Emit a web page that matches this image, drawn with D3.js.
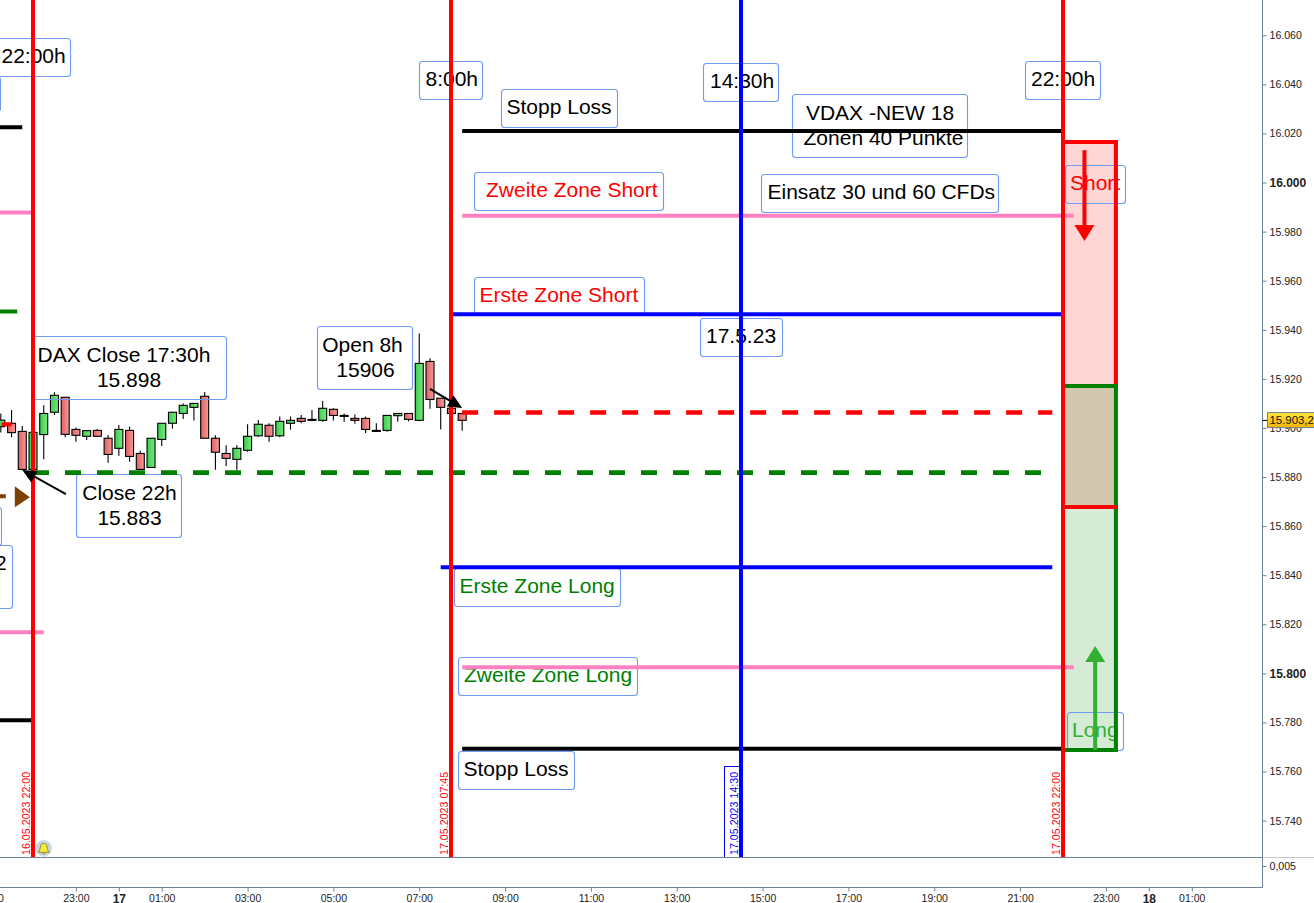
<!DOCTYPE html>
<html>
<head>
<meta charset="utf-8">
<style>
html,body{margin:0;padding:0;background:#fff;overflow:hidden}
svg{display:block}
text{font-family:"Liberation Sans",Arial,sans-serif}
</style>
<script src="https://cdn.jsdelivr.net/npm/d3@7"></script>
</head>
<body>
<svg id="c" width="1314" height="903"></svg>
<script>
// ---------- data ----------
const candleStart = Date.UTC(2023,4,16,21,15);
const candleOpen  = [15900.5,15901.9,15898.6,15883.1,15897.3,15906.4,15912.5,15899.4,15896.6,15899.0,15895.8,15891.7,15899.0,15889.6,15883.9,15895.3,15901.9,15905.9,15908.4,15912.9,15895.8,15889.6,15887.2,15890.9,15896.8,15901.1,15896.8,15901.9,15903.9,15903.1,15903.1,15907.6,15905.1,15903.9,15903.9,15899.0,15899.0,15905.0,15905.9,15903.1,15927.1,15912.1,15908.0,15905.9];
const candleHigh  = [15905.9,15907.3,15900.8,15898.2,15909.3,15914.5,15912.5,15900.2,15898.9,15899.6,15897.1,15901.2,15900.6,15890.7,15895.8,15901.9,15906.4,15910.0,15910.0,15914.6,15897.0,15892.9,15892.9,15901.5,15903.2,15901.9,15904.7,15904.7,15905.3,15907.3,15911.0,15908.0,15905.9,15905.5,15904.7,15901.9,15905.1,15905.9,15905.9,15938.5,15928.4,15912.1,15910.0,15905.9];
const candleLow   = [15898.1,15896.2,15883.1,15883.1,15887.2,15905.3,15896.2,15894.4,15895.1,15896.6,15885.8,15888.7,15886.2,15883.1,15883.9,15892.6,15899.7,15903.6,15903.0,15895.8,15883.0,15884.5,15883.0,15890.3,15896.4,15894.4,15896.2,15899.3,15901.9,15902.7,15902.5,15903.0,15902.5,15901.7,15897.9,15898.6,15898.5,15902.5,15902.7,15902.7,15907.8,15899.4,15905.9,15898.9];
const candleClose = [15903.2,15898.1,15883.1,15898.2,15905.9,15913.3,15897.4,15897.0,15898.9,15896.6,15889.2,15899.4,15888.4,15883.1,15895.8,15901.9,15906.4,15909.2,15910.0,15895.8,15890.1,15887.6,15891.7,15896.6,15901.5,15896.6,15902.7,15903.1,15902.7,15903.5,15908.0,15905.1,15904.7,15903.1,15899.4,15898.6,15905.1,15905.9,15903.5,15926.3,15911.6,15908.4,15905.9,15903.1];

const t = (d,h,m=0) => Date.UTC(2023,4,d,h,m);
const priceTicks = [16060,16040,16020,16000,15980,15960,15940,15920,15900,15880,15860,15840,15820,15800,15780,15760,15740];
const boldPrices = [16000,15800];
const timeTicks = [t(16,21),t(16,23),t(17,0),t(17,1),t(17,3),t(17,5),t(17,7),t(17,9),t(17,11),t(17,13),t(17,15),t(17,17),t(17,19),t(17,21),t(17,23),t(18,0),t(18,1)];

const stopLossUpper = 16021.0, stopLossLower = 15769.3;
const zweiteShort = 15986.5, zweiteLong = 15802.5;
const ersteShort = 15946.3, ersteLong = 15843.2;
const openLevel = 15906.3, closeLevel = 15881.8;
const prevBlackUp = 16022.5, prevBlackDown = 15780.9, prevPinkUp = 15987.8, prevPinkDown = 15816.7;
const prevGreen = 15947.5, prevRed = 15901.5, prevBrown = 15872.2;
const zoneTop = 16016.5, zoneShortBottom = 15917.1, zoneLongTop = 15867.8, zoneBottom = 15768.8;
const lastPrice = 15903.2;
const verticals = [t(16,22),t(17,7,45),t(17,14,30),t(17,22)];
const verticalLabels = ["16.05.2023 22:00","17.05.2023 07:45","17.05.2023 14:30","17.05.2023 22:00"];
const boxTexts = [
 ["22:00h"],["8:00h"],["Stopp Loss"],["14:30h"],["VDAX -NEW 18","Zonen 40 Punkte"],["22:00h"],
 ["Zweite Zone Short"],["Einsatz 30 und 60 CFDs"],["Short"],["Erste Zone Short"],["17.5.23"],
 ["DAX Close 17:30h","15.898"],["Open 8h","15906"],["Close 22h","15.883"],
 ["Erste Zone Long"],["Zweite Zone Long"],["Stopp Loss"],["Long"],["2"],[""],[""]
];

// ---------- scales ----------
const x = d3.scaleUtc().domain([t(16,22),t(17,22)]).range([33,1063]);
const y = d3.scaleLinear().domain([15740,16060]).range([820.6,35.3]);
const svg = d3.select("#c");
const defs = svg.append("defs");
function grad(id,a,b,vertical){
  const g = defs.append("linearGradient").attr("id",id).attr("x1",0).attr("y1",0).attr("x2",vertical?0:1).attr("y2",vertical?1:0);
  g.append("stop").attr("offset",0).attr("stop-color",a);
  g.append("stop").attr("offset",1).attr("stop-color",b);
}
grad("gUp","#38cf50","#7ce67c");
grad("gDn","#e06060","#f49a9a");
grad("gTag","#ffe83a","#f0b400",true);
defs.append("clipPath").attr("id","plot").append("rect").attr("width",1262).attr("height",857);

const plot = svg.append("g").attr("clip-path","url(#plot)");

// ---------- zones ----------
const zx0 = x(t(17,22)), zx1 = x(t(17,23,14));
const zones = [[zoneTop,zoneShortBottom,"#ffd6d6"],[zoneShortBottom,zoneLongTop,"#d3c7b0"],[zoneLongTop,zoneBottom,"#d5ebd6"]];
plot.selectAll("rect.zone").data(zones).join("rect").attr("class","zone")
  .attr("x",zx0).attr("width",zx1-zx0).attr("y",d=>y(d[0])).attr("height",d=>y(d[1])-y(d[0])).attr("fill",d=>d[2]);

// ---------- candles ----------
const candles = candleOpen.map((o,i)=>({time:candleStart+i*9e5,o,h:candleHigh[i],l:candleLow[i],c:candleClose[i]}));
const cg = plot.append("g");
const W = 8;
cg.selectAll("line").data(candles).join("line")
  .attr("x1",d=>x(d.time)).attr("x2",d=>x(d.time)).attr("y1",d=>y(d.h)).attr("y2",d=>y(d.l))
  .attr("stroke","#000").attr("stroke-width",1.1);
cg.selectAll("rect").data(candles).join("rect")
  .attr("x",d=>x(d.time)-W/2).attr("width",W)
  .attr("y",d=>y(Math.max(d.o,d.c))).attr("height",d=>Math.max(1,Math.abs(y(d.o)-y(d.c))))
  .attr("fill",d=>d.c>=d.o?"url(#gUp)":"url(#gDn)").attr("stroke","#000").attr("stroke-width",1.1);

// ---------- text boxes (layout: left, top, width, height, text left or line centres, colour) ----------
const boxLayout = [
 [-40,38.5,110.5,38,1.5,"#000"],[419.5,61.5,63,38,425.5,"#000"],[501.5,89.5,116,38,506.5,"#000"],
 [703.5,63.5,75,38,710,"#000"],[792.5,94.5,175,63,[880,883.5],"#000"],[1025.5,61.5,75,38,1031,"#000"],
 [474.5,172.5,189,38,486,"#f00"],[761.5,174.5,237,38,767.5,"#000"],[1065.5,165.5,60,38,1070,"#f00"],
 [474.5,277.5,170,38,479.5,"#f00"],[700.5,318.5,82,38,706,"#000"],
 [32.5,336.5,194,63,[124,129],"#000"],[317.5,326.5,95,63,[362.5,365.5],"#000"],[76.5,474.5,105,63,[129.5,129.5],"#000"],
 [454.5,568.5,166,38,459.5,"#008000"],[458.5,657.5,179,38,464,"#008000"],[458.5,751.5,116,38,463.5,"#000"],
 [1067.5,712.5,56,38,1072,"#33b033"],[-60,545.5,72.5,63,-5,"#000"],[-60,507.5,61.5,38,0,"#000"],[-60,76.5,60.5,35,0,"#000"]
];
const tb = plot.append("g");
boxTexts.forEach((lines,i)=>{
  const [bx,by,bw,bh,tx,col] = boxLayout[i];
  tb.append("rect").attr("x",bx).attr("y",by).attr("width",bw).attr("height",bh).attr("rx",3)
    .attr("fill","none").attr("stroke","#6f9bf5").attr("stroke-width",1.1);
  const two = lines.length>1;
  lines.forEach((s,j)=>{
    tb.append("text").attr("x",two?tx[j]:tx).attr("y",by+(two?25.4:24.7)+j*25.2).attr("font-size",21).attr("fill",col)
      .attr("text-anchor",two?"middle":"start").text(s);
  });
});

// ---------- horizontal levels ----------
const hl = plot.append("g");
const segs = [
 [t(17,8),t(17,22),stopLossUpper,"#000"],[t(17,8),t(17,22),stopLossLower,"#000"],
 [t(17,8),t(17,22,15),zweiteShort,"#ff80c0"],[t(17,8),t(17,22,15),zweiteLong,"#ff80c0"],
 [t(17,7,45),t(17,22),ersteShort,"#0000ff"],[t(17,7,30),t(17,21,45),ersteLong,"#0000ff"],
 [t(16,20),t(16,21,45),prevBlackUp,"#000"],[t(16,20),t(16,22),prevBlackDown,"#000"],
 [t(16,20),t(16,22),prevPinkUp,"#ff80c0"],[t(16,20),t(16,22,15),prevPinkDown,"#ff80c0"],
 [t(16,20),t(16,21,38),prevGreen,"#008000"],[t(16,21,16),t(16,21,30),prevRed,"#f00"],
 [t(16,20),t(16,21,22),prevBrown,"#7f3f00"]
];
hl.selectAll("line.seg").data(segs).join("line").attr("class","seg")
  .attr("x1",d=>x(d[0])).attr("x2",d=>x(d[1])).attr("y1",d=>y(d[2])).attr("y2",d=>y(d[2]))
  .attr("stroke",d=>d[3]).attr("stroke-width",4);
const dashed = [[t(17,8),t(17,21,45),openLevel,"#f00"],[t(16,22),t(17,21,30),closeLevel,"#008000"]];
hl.selectAll("line.dash").data(dashed).join("line").attr("class","dash")
  .attr("x1",d=>x(d[0])).attr("x2",d=>x(d[1])).attr("y1",d=>y(d[2])).attr("y2",d=>y(d[2]))
  .attr("stroke",d=>d[3]).attr("stroke-width",4.6).attr("stroke-dasharray","16 16");

// ---------- zone borders ----------
const borders = [
 [t(17,22),t(17,23,14),zoneTop,zoneTop,"#f00"],
 [t(17,23,14),t(17,23,14),zoneTop,zoneShortBottom,"#f00"],
 [t(17,22),t(17,23,14),zoneShortBottom,zoneShortBottom,"#008000"],
 [t(17,23,14),t(17,23,14),zoneShortBottom,zoneBottom,"#008000"],
 [t(17,22),t(17,23,14),zoneBottom,zoneBottom,"#008000"],
 [t(17,22),t(17,23,14),zoneLongTop,zoneLongTop,"#f00"]
];
plot.selectAll("line.bd").data(borders).join("line").attr("class","bd")
  .attr("x1",d=>x(d[0])).attr("x2",d=>x(d[1])).attr("y1",d=>y(d[2])).attr("y2",d=>y(d[3]))
  .attr("stroke",d=>d[4]).attr("stroke-width",4).attr("stroke-linecap","square");

// ---------- vertical lines ----------
const vCols = ["#f00","#f00","#0000ff","#f00"];
plot.selectAll("line.v").data(verticals).join("line").attr("class","v")
  .attr("x1",d=>Math.round(x(d))).attr("x2",d=>Math.round(x(d))).attr("y1",0).attr("y2",857)
  .attr("stroke",(d,i)=>vCols[i]).attr("stroke-width",4);
plot.append("rect").attr("x",Math.round(x(verticals[2]))-16.5).attr("y",766.5).attr("width",16).attr("height",91)
  .attr("fill","none").attr("stroke","#0000ff").attr("stroke-width",1);
plot.selectAll("text.v").data(verticals).join("text").attr("class","v")
  .attr("transform",d=>`translate(${Math.round(x(d))-3.2},855) rotate(-90)`)
  .attr("font-size",10.7).attr("fill",(d,i)=>vCols[i]).text((d,i)=>verticalLabels[i]);

// ---------- arrows ----------
function vArrow(time,p0,p1,col){
  const ax=x(time), y0=y(p0), y1=y(p1), dir=y1>y0?1:-1;
  plot.append("line").attr("x1",ax).attr("x2",ax).attr("y1",y0).attr("y2",y1-dir*10).attr("stroke",col).attr("stroke-width",4);
  plot.append("path").attr("d",d3.line()([[ax-10,y1-dir*16],[ax+10,y1-dir*16],[ax,y1]])+"Z").attr("fill",col);
}
vArrow(t(17,22,30),16013.2,15976.2,"#f00");
vArrow(t(17,22,45),zoneBottom,15811.1,"#33b033");
function blackArrow(p0,p1){
  const a=[x(p0[0]),y(p0[1])], b=[x(p1[0]),y(p1[1])];
  const ang=Math.atan2(b[1]-a[1],b[0]-a[0]), L=14, H=6.5;
  const bx=b[0]-L*Math.cos(ang), by=b[1]-L*Math.sin(ang);
  plot.append("line").attr("x1",a[0]).attr("y1",a[1]).attr("x2",bx).attr("y2",by).attr("stroke","#000").attr("stroke-width",2);
  plot.append("path").attr("fill","#000").attr("d",d3.line()([b,[bx-H*Math.sin(ang),by+H*Math.cos(ang)],[bx+H*Math.sin(ang),by-H*Math.cos(ang)]])+"Z");
}
blackArrow([t(16,22,46),15873],[t(16,21,45),15882.9]);
blackArrow([t(17,7,15),15915.9],[t(17,8),15908.1]);

// brown marker
const bmx=x(t(16,21,43)), bmy=y(prevBrown);
plot.append("path").attr("fill","#7f3f00").attr("d",d3.line()([[bmx-6,bmy-10],[bmx+9,bmy+1],[bmx-6,bmy+11]])+"Z");

// bell
const bell=plot.append("g").attr("transform",`translate(${x(t(16,22,15))},848.3)`);
bell.append("circle").attr("r",8).attr("fill","#c5d6df").attr("stroke","#dde6ea");
bell.append("path").attr("d","M-5.5,4 C-3.5,2 -3.5,-1 -3,-3 C-2.5,-5.5 2.5,-5.5 3,-3 C3.5,-1 3.5,2 5.5,4 Z")
  .attr("fill","#f6ea3a").attr("stroke","#7a7a30").attr("stroke-width",0.8);
bell.append("circle").attr("cy",5).attr("r",1.4).attr("fill","#b5a82a");

// ---------- axes ----------
const axisCol="#708090";
const yAxis = d3.axisRight(y).tickValues(priceTicks).tickSize(4).tickPadding(3)
  .tickFormat(d=>d3.format(".3f")(d/1000));
const gy = svg.append("g").attr("transform","translate(1262.5,0)").call(yAxis);
gy.select(".domain").remove();
gy.selectAll(".tick line").attr("stroke",axisCol);
gy.selectAll(".tick text").attr("font-family",'"Liberation Sans",Arial,sans-serif')
  .attr("font-size",d=>boldPrices.includes(d)?12:10.6)
  .attr("font-weight",d=>boldPrices.includes(d)?"bold":"normal").attr("fill","#222");

const isDay = d=>new Date(d).getUTCHours()===0;
const xAxis = d3.axisBottom(x).tickValues(timeTicks).tickSize(4).tickPadding(3)
  .tickFormat(d=>isDay(d)?String(new Date(d).getUTCDate()):d3.utcFormat("%H:%M")(new Date(d)));
const gx = svg.append("g").attr("transform","translate(0,887.5)").call(xAxis);
gx.select(".domain").remove();
gx.selectAll(".tick line").attr("stroke",axisCol);
gx.selectAll(".tick text").attr("font-family",'"Liberation Sans",Arial,sans-serif')
  .attr("font-size",d=>isDay(d)?12:10.5)
  .attr("font-weight",d=>isDay(d)?"bold":"normal").attr("fill","#222");

svg.append("line").attr("x1",0).attr("x2",1262.5).attr("y1",857.5).attr("y2",857.5).attr("stroke",axisCol);
svg.append("line").attr("x1",1262.5).attr("x2",1314).attr("y1",857.5).attr("y2",857.5).attr("stroke","#c8c8c8");
svg.append("line").attr("x1",0).attr("x2",1262.5).attr("y1",887.5).attr("y2",887.5).attr("stroke",axisCol);
svg.append("line").attr("x1",1262.5).attr("x2",1262.5).attr("y1",0).attr("y2",887.5).attr("stroke",axisCol);
svg.append("line").attr("x1",1262.5).attr("x2",1266.5).attr("y1",866.5).attr("y2",866.5).attr("stroke",axisCol);
svg.append("text").attr("x",1269.5).attr("y",870).attr("font-size",10.6).attr("fill","#222").text("0,005");

// ---------- last price tag ----------
svg.append("line").attr("x1",1262.5).attr("x2",1267).attr("y1",y(lastPrice)+0.3).attr("y2",y(lastPrice)+0.3).attr("stroke","#000");
svg.append("rect").attr("x",1267.5).attr("y",y(lastPrice)-7.5).attr("width",47).attr("height",15)
  .attr("fill","url(#gTag)").attr("stroke",axisCol);
svg.append("text").attr("x",1269.5).attr("y",y(lastPrice)+4).attr("font-size",11.4).attr("fill","#111")
  .text(d3.format(".1f")(lastPrice).replace(/^(\d\d)(\d{3})\.(\d)$/,"$1.$2,$3"));
</script>
</body>
</html>
